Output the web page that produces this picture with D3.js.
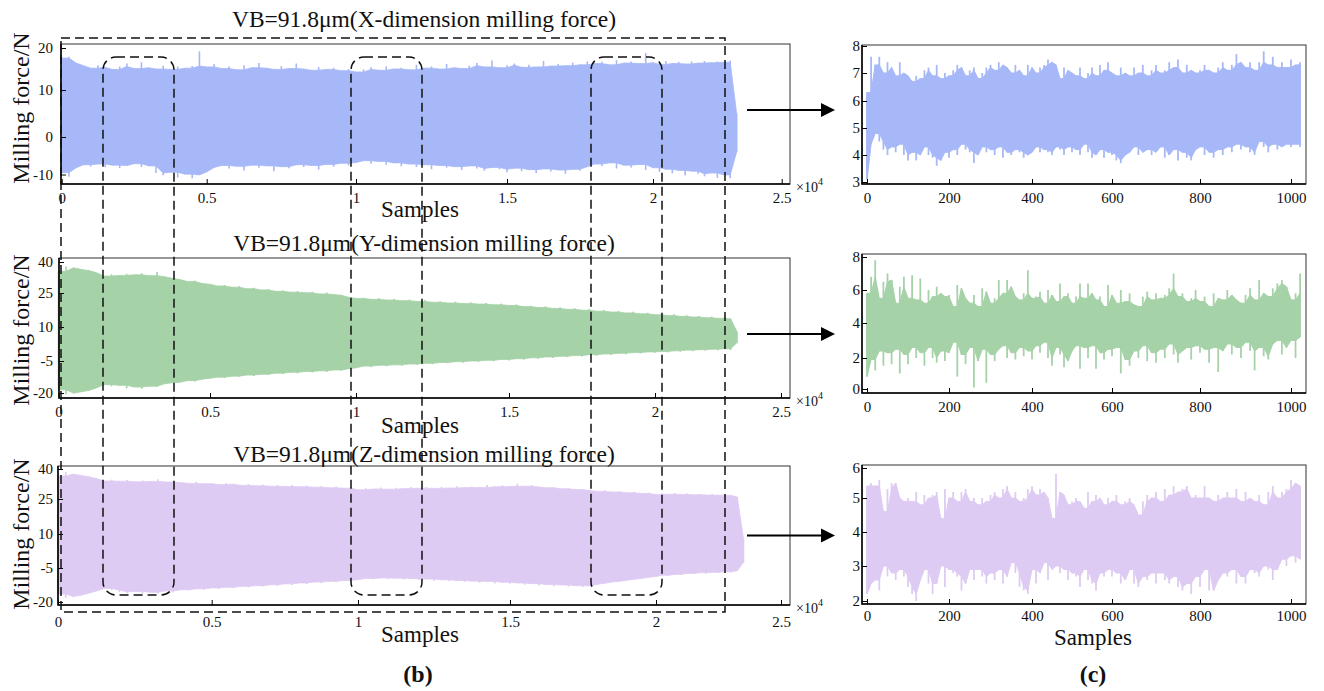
<!DOCTYPE html>
<html><head><meta charset="utf-8">
<script src="https://cdn.jsdelivr.net/npm/d3@7"></script>
<style>body{margin:0;background:#fff}svg{display:block}</style>
</head><body>
<svg id="chart" width="1324" height="691"></svg>
<script>
// ---------------- DATA ----------------
const panelTitles = ["VB=91.8μm(X-dimension milling force)", "VB=91.8μm(Y-dimension milling force)", "VB=91.8μm(Z-dimension milling force)"];
const yAxisLabel = "Milling force/N";
const xAxisLabel = "Samples";
const leftXTicks = [0, 5000, 10000, 15000, 20000, 25000];
const leftXTickLabels = ["0", "0.5", "1", "1.5", "2", "2.5"];
const rightXTicks = [0, 200, 400, 600, 800, 1000];
const leftYTicksX = [-10, 0, 10, 20];
const leftYTicksYZ = [-20, -5, 10, 25, 40];
const rightYTicksX = [3, 4, 5, 6, 7, 8];
const rightYTicksY = [0, 2, 4, 6, 8];
const rightYTicksZ = [2, 3, 4, 5, 6];
const leftSampleStep = 250;   // samples between envelope readings (full record)
const rightSampleStep = 10;   // samples between envelope readings (1024-sample window)

// full-record envelopes (upper / lower), one reading every 250 samples
const xUpper = [17.6,17.9,16.4,15.8,15.2,15.9,15.4,14.9,15.6,16.3,15.1,16.6,15.3,15.0,15.8,14.9,15.6,15.2,15.7,19.2,
15.5,16.2,15.1,15.6,14.8,15.9,15.3,16.4,15.2,14.9,15.7,15.1,16.3,15.0,14.7,15.5,14.9,15.3,14.6,15.0,
14.3,14.9,15.4,14.7,15.6,15.0,15.3,14.8,16.0,15.2,15.6,15.0,16.2,15.3,15.1,15.8,16.4,15.5,17.0,15.3,
15.9,16.3,15.4,16.0,15.5,16.9,15.7,16.2,15.8,16.5,16.0,16.8,16.3,16.7,16.0,17.1,16.4,16.8,16.3,18.8,
16.5,16.1,16.9,16.3,16.7,16.2,16.8,16.4,16.9,16.5,16.8,16.6,17.0,5.0];
const xLower = [-9.5,-10.6,-8.2,-7.4,-7.9,-7.2,-8.0,-7.5,-8.3,-7.6,-7.1,-8.0,-7.7,-9.6,-10.2,-9.4,-10.8,-9.9,-11.0,-10.1,
-9.3,-8.1,-7.6,-8.4,-7.8,-8.9,-7.5,-8.2,-7.7,-9.1,-7.9,-8.3,-7.4,-8.0,-7.6,-8.7,-7.3,-7.9,-7.0,-7.6,
-6.8,-6.3,-7.1,-6.5,-7.4,-6.9,-7.8,-7.2,-8.0,-7.4,-8.6,-7.6,-8.2,-7.9,-8.8,-7.7,-8.4,-9.0,-8.1,-8.6,
-9.4,-8.3,-9.1,-8.7,-9.6,-8.5,-9.2,-8.8,-9.8,-8.6,-9.0,-7.9,-7.2,-7.8,-6.9,-8.4,-7.5,-8.1,-7.3,-8.8,
-8.2,-9.3,-8.6,-9.7,-8.9,-10.2,-9.1,-9.8,-10.5,-9.6,-10.9,-10.1,-11.0,-4.0];
const yUpper = [35.5,37.8,37.2,36.4,35.9,34.8,33.2,34.1,33.5,34.3,33.8,34.6,33.4,35.2,32.9,32.1,31.5,30.6,30.9,29.6,
29.2,28.4,28.9,27.8,28.3,27.1,27.6,26.5,26.9,25.8,26.3,25.4,25.9,25.1,25.6,24.6,25.2,24.3,24.0,23.1,
22.6,22.9,22.2,22.8,21.9,22.4,21.6,22.1,21.3,21.8,20.9,21.4,20.6,21.2,20.4,20.9,20.1,20.6,19.8,20.3,
19.5,19.9,19.0,19.4,18.6,19.1,18.2,18.7,17.8,18.3,17.4,17.9,17.0,17.5,16.6,17.1,16.2,16.7,15.8,16.3,
15.4,15.9,15.1,15.6,14.7,15.2,14.4,14.9,14.1,14.6,13.8,14.3,13.6,8.0];
const yLower = [-18.5,-20.6,-20.1,-19.4,-18.8,-17.6,-16.1,-16.9,-16.4,-17.8,-17.2,-18.0,-16.8,-17.1,-15.7,-15.2,-15.0,-14.2,-14.6,-13.5,
-13.1,-12.6,-13.0,-12.1,-12.4,-11.6,-12.0,-11.2,-11.5,-10.7,-11.1,-10.3,-10.8,-9.9,-10.4,-9.6,-10.1,-9.2,-9.5,-8.6,
-8.2,-7.4,-7.9,-7.0,-7.5,-6.8,-7.2,-6.4,-6.9,-6.1,-6.5,-5.7,-6.1,-5.3,-5.8,-5.0,-5.4,-4.7,-5.1,-4.3,
-4.8,-4.0,-4.4,-3.6,-4.0,-3.2,-3.7,-2.9,-3.3,-2.6,-3.0,-2.2,-2.7,-1.9,-2.4,-1.6,-2.0,-1.3,-1.7,-1.0,
-1.4,-0.8,-1.2,-0.5,-0.9,-0.2,-0.7,0.0,-0.5,0.2,-0.3,0.4,-0.2,3.0];
const zUpper = [36.5,38.6,37.4,36.8,36.1,35.2,34.0,34.7,33.9,34.5,33.6,34.3,33.8,34.9,33.5,34.1,33.2,32.8,33.7,32.6,
32.9,32.2,33.0,32.4,31.8,32.5,31.6,32.2,31.4,31.9,31.2,32.0,31.1,31.7,30.9,31.5,30.6,31.3,30.4,30.9,
29.6,30.4,30.0,30.7,29.9,30.6,30.2,31.0,30.4,30.9,30.3,31.1,30.5,31.4,30.7,31.2,30.8,32.0,31.1,31.9,
31.3,32.6,31.4,31.9,31.0,30.6,30.9,30.1,30.4,29.7,29.9,29.2,28.8,29.4,28.5,28.9,28.1,28.6,27.8,28.2,
27.2,27.9,27.4,28.0,27.3,27.8,27.1,27.6,27.0,27.5,26.9,27.4,26.8,26.0,8.0];
const zLower = [-16.5,-18.2,-17.6,-17.0,-16.1,-15.2,-14.0,-14.8,-15.5,-16.1,-15.4,-16.3,-15.7,-16.2,-15.1,-15.8,-14.6,-14.9,-14.2,-14.7,
-13.8,-14.3,-13.5,-13.9,-13.1,-13.6,-12.8,-13.2,-12.4,-12.9,-12.0,-12.5,-11.6,-12.1,-11.2,-11.7,-10.9,-11.3,-10.5,-10.9,
-10.1,-9.6,-10.0,-9.4,-9.9,-9.5,-10.1,-9.7,-10.3,-9.9,-10.6,-10.2,-10.9,-10.5,-11.2,-10.8,-11.5,-11.0,-11.8,-11.3,
-12.0,-11.6,-12.4,-11.9,-12.7,-12.3,-13.0,-12.5,-13.2,-12.8,-13.4,-12.9,-12.2,-11.7,-11.2,-10.9,-10.4,-10.0,-9.6,-9.1,
-8.7,-8.2,-8.5,-7.8,-8.1,-7.4,-7.7,-7.1,-7.5,-6.9,-7.3,-6.7,-7.0,-6.2,-2.5];

// 1024-sample window peaks (hi) and troughs (lo), one pair every 10 samples
const xWinHi = [6.3,7.6,7.3,7.6,7.0,7.4,7.2,6.9,7.4,7.0,6.9,6.7,6.9,6.8,7.1,7.2,6.9,7.3,6.8,7.0,
6.9,7.1,7.3,7.2,6.9,7.1,7.2,6.8,7.0,7.2,7.3,7.1,7.4,7.3,7.2,7.0,7.3,7.1,6.9,7.3,
7.2,7.0,7.2,7.3,7.5,7.4,7.3,6.8,7.2,7.1,7.0,6.9,7.2,6.8,7.0,7.2,6.9,7.3,7.1,7.4,
7.0,6.9,7.2,7.0,6.9,7.2,7.0,7.3,6.9,7.1,7.3,7.0,7.1,7.4,7.2,7.5,7.0,7.3,7.1,7.0,
7.1,7.3,7.1,7.0,7.2,7.4,7.1,7.3,7.7,7.4,7.2,7.4,7.1,7.4,7.8,7.3,7.6,7.2,7.4,7.2,
7.5,7.3,7.4];
const xWinLo = [3.1,4.4,4.8,4.5,4.2,4.0,4.3,4.1,4.4,4.0,3.8,4.1,3.8,4.0,4.3,4.0,3.9,3.6,3.8,4.1,
3.9,4.2,4.0,4.4,4.2,4.1,3.7,4.0,4.3,4.1,4.2,4.0,4.3,3.9,4.1,4.0,4.2,4.1,3.9,4.0,
4.1,4.3,4.1,4.2,4.1,4.0,4.3,4.2,4.0,4.3,4.1,4.2,4.0,4.4,4.1,3.9,4.0,4.2,3.9,4.1,
4.0,3.8,3.7,4.0,4.1,4.3,4.0,4.1,4.2,4.0,4.1,4.3,3.9,4.0,4.2,3.8,4.1,3.9,3.8,4.2,
4.3,4.0,4.1,3.9,4.2,4.0,4.3,4.1,4.4,4.2,4.3,4.1,4.0,4.5,4.3,4.1,4.4,4.2,4.3,4.4,
4.3,4.4,4.3];
const yWinHi = [5.8,6.8,7.8,5.5,6.5,7.0,6.6,5.2,6.2,6.8,5.5,6.9,5.4,6.7,5.2,6.0,5.6,6.2,5.8,5.6,
5.7,5.0,6.3,6.1,5.5,5.2,5.7,5.0,6.1,5.9,5.2,5.5,6.6,5.8,6.6,6.2,5.6,5.4,5.8,7.2,
5.5,5.6,5.9,5.2,6.0,5.7,5.3,6.4,5.6,5.8,5.2,5.6,6.4,5.5,6.4,5.8,5.4,5.6,5.0,6.3,
5.7,5.2,6.0,5.3,5.8,5.1,5.0,5.6,5.9,5.4,5.8,5.5,5.7,6.1,7.0,5.6,5.8,5.3,5.5,6.0,
5.3,5.6,5.0,5.8,5.5,5.4,6.0,5.7,5.4,5.2,5.7,6.1,5.4,6.6,5.8,5.6,6.1,6.4,6.6,6.2,
5.4,5.8,7.0];
const yWinLo = [0.8,1.9,1.2,2.4,1.5,2.3,1.6,2.5,1.0,2.2,1.6,2.6,2.0,2.3,1.5,2.6,2.0,1.7,2.4,1.8,
2.3,2.9,0.8,2.2,1.6,2.6,0.1,1.8,2.5,0.4,2.2,1.8,2.5,2.7,2.0,2.3,1.9,2.6,2.1,2.4,
1.9,2.7,2.3,2.9,2.0,1.5,2.6,2.2,1.4,1.8,2.4,2.7,1.3,2.6,2.0,2.7,1.3,2.3,1.9,2.5,
2.1,2.6,1.0,1.9,1.5,2.4,2.0,2.7,1.8,2.3,1.7,2.5,2.0,2.8,2.2,1.7,2.4,2.6,1.9,2.7,
2.3,2.5,1.7,2.6,1.1,2.4,2.8,2.2,2.6,2.0,2.9,2.4,1.2,2.6,2.1,1.9,2.8,3.0,2.2,2.6,
3.0,2.0,3.2];
const zWinHi = [5.4,5.5,5.4,5.6,4.6,5.3,5.5,5.5,5.0,4.9,5.0,4.9,5.2,4.8,5.1,5.0,5.1,5.2,4.4,5.3,
5.0,5.2,4.9,5.2,5.3,4.9,5.0,4.8,5.0,4.9,5.1,5.2,5.0,5.3,5.4,5.0,5.2,4.9,5.0,5.3,
5.4,5.1,5.3,5.2,5.0,4.4,5.8,5.2,5.1,4.8,4.9,5.0,4.9,4.7,5.2,4.9,5.1,5.0,4.8,5.0,
4.9,5.1,4.8,4.9,5.0,4.8,4.5,4.9,5.1,5.0,5.2,4.9,5.3,5.1,5.4,5.2,5.3,5.4,5.0,5.1,
5.0,5.4,5.0,4.9,5.1,5.0,5.2,5.0,5.3,4.9,5.2,5.0,4.9,5.1,4.8,5.2,5.4,5.0,5.2,5.3,
5.6,5.5,5.4];
const zWinLo = [2.2,2.5,2.6,2.3,3.0,2.7,2.8,2.6,2.9,2.7,2.4,2.2,2.0,2.6,2.9,2.5,2.2,2.5,3.0,2.4,
2.9,2.8,2.7,2.3,2.5,2.9,2.6,2.9,2.7,2.5,2.8,2.6,2.9,2.5,2.7,3.1,2.8,2.4,2.3,2.2,
2.9,2.5,2.8,3.1,2.6,2.9,3.0,2.8,2.9,2.6,2.8,2.7,2.4,2.9,2.6,2.5,2.3,2.8,2.7,2.9,
2.7,2.8,2.5,2.6,2.9,2.5,2.4,2.7,2.6,2.8,2.5,2.8,2.6,2.5,2.7,2.4,2.3,2.5,2.2,2.7,
2.4,2.9,2.3,2.3,2.6,2.8,2.7,2.9,2.5,2.7,2.5,2.9,2.8,2.7,3.0,2.9,2.6,2.9,3.2,3.0,
3.3,3.1,3.2];

const colors = ["#a7b8f8", "#a6d2a8", "#decbf3"];

// ---------------- LAYOUT ----------------
const FONT = "'Liberation Serif','Times New Roman',Times,serif";
const svg = d3.select("#chart");

const leftPanels = [
  {box:{x0:61,x1:790,y0:44,y1:184}, xr:[61.7,206.7,356,507,653,781.7], yTicks:leftYTicksX, yr:[174.5,137,90,48],
   up:xUpper, lo:xLower, color:colors[0], title:panelTitles[0], titleY:27, labY:217, ylabY:108, tickPad:8},
  {box:{x0:59,x1:790,y0:258,y1:398}, xr:[58.5,210,356,509,655,781], yTicks:leftYTicksYZ, yr:[393,361,327,293,262],
   up:yUpper, lo:yLower, color:colors[1], title:panelTitles[1], titleY:251, labY:433, ylabY:330, tickPad:8},
  {box:{x0:58,x1:790,y0:466,y1:605}, xr:[58,211.7,358,510,656,781], yTicks:leftYTicksYZ, yr:[602,568,534,499,469],
   up:zUpper, lo:zLower, color:colors[2], title:panelTitles[2], titleY:462, labY:642, ylabY:534, tickPad:11}
];
const rightPanels = [
  {box:{x0:862,x1:1306,y0:45,y1:184}, yTicks:rightYTicksX, yr:[182,155,128,101,73,46], hi:xWinHi, lo:xWinLo, color:colors[0], tickPad:8},
  {box:{x0:862,x1:1306,y0:254,y1:393}, yTicks:rightYTicksY, yr:[389,358,323,290,257], hi:yWinHi, lo:yWinLo, color:colors[1], tickPad:8},
  {box:{x0:862,x1:1306,y0:465,y1:604}, yTicks:rightYTicksZ, yr:[601,566,532,498,468], hi:zWinHi, lo:zWinLo, color:colors[2], tickPad:6}
];
const rightXRange = [867,949,1032,1112,1200,1291];

function styleAxis(g) {
  g.select(".domain").remove();
  g.selectAll(".tick line").attr("stroke", "#000").attr("stroke-width", 1);
  g.selectAll(".tick text").attr("font-family", FONT).attr("font-size", 15).attr("fill", "#111");
}

function drawBox(b) {
  svg.append("rect").attr("x", b.x0).attr("y", b.y0).attr("width", b.x1 - b.x0).attr("height", b.y1 - b.y0)
    .attr("fill", "none").attr("stroke", "#333").attr("stroke-width", 1);
  svg.append("path").attr("d", `M${b.x0},${b.y0}V${b.y1}H${b.x1}`).attr("fill", "none")
    .attr("stroke", "#000").attr("stroke-width", 1.5);
}

// band = core area crossed by consecutive swings + each swing drawn as a thin vertical stroke
function drawSignal(hi, lo, step, x, y, color, clipId, coreStroke, swingWidth) {
  const rows = hi.map((h, i) => {
    const a = Math.max(0, i - 1);
    return {s: i * step, h: h, l: lo[i],
      ch: Math.min(hi[a], h), cl: Math.max(lo[a], lo[i])};
  });
  svg.append("path").datum(rows).attr("clip-path", `url(#${clipId})`)
    .attr("fill", color).attr("stroke", color).attr("stroke-width", coreStroke)
    .attr("d", d3.area().x(d => x(d.s)).y0(d => y(Math.min(d.cl, d.ch))).y1(d => y(d.ch)));
  svg.append("g").attr("clip-path", `url(#${clipId})`).selectAll("line").data(rows).join("line")
    .attr("x1", d => x(d.s)).attr("x2", d => x(d.s))
    .attr("y1", d => y(d.l)).attr("y2", d => y(d.h))
    .attr("stroke", color).attr("stroke-width", swingWidth);
}

leftPanels.forEach((p, k) => {
  const b = p.box;
  const x = d3.scaleLinear().domain(leftXTicks).range(p.xr);
  const y = d3.scaleLinear().domain(p.yTicks).range(p.yr);
  const cid = "clipL" + k;
  svg.append("clipPath").attr("id", cid).append("rect")
    .attr("x", b.x0 - 4).attr("y", b.y0).attr("width", b.x1 - b.x0 + 4).attr("height", b.y1 - b.y0);
  drawSignal(p.up, p.lo, leftSampleStep, x, y, p.color, cid, 0.8, 1.6);
  drawBox(b);
  svg.append("g").attr("transform", `translate(0,${b.y1})`)
    .call(d3.axisBottom(x).tickValues(leftXTicks).tickFormat((d, i) => leftXTickLabels[i])
      .tickSizeInner(-5).tickSizeOuter(0).tickPadding(p.tickPad)).call(styleAxis);
  svg.append("g").attr("transform", `translate(${b.x0},0)`)
    .call(d3.axisLeft(y).tickValues(p.yTicks).tickFormat(d => String(d))
      .tickSizeInner(-5).tickSizeOuter(0).tickPadding(b.x0 - 53)).call(styleAxis);
  svg.append("text").attr("x", 424).attr("y", p.titleY).attr("text-anchor", "middle")
    .attr("font-family", FONT).attr("font-size", 23.5).attr("fill", "#111").text(p.title);
  svg.append("text").attr("x", 420).attr("y", p.labY).attr("text-anchor", "middle")
    .attr("font-family", FONT).attr("font-size", 23).attr("fill", "#111").text(xAxisLabel);
  svg.append("text").attr("transform", `translate(29,${p.ylabY}) rotate(-90)`).attr("text-anchor", "middle")
    .attr("font-family", FONT).attr("font-size", 24).attr("fill", "#111").text(yAxisLabel);
  const sc = svg.append("text").attr("x", 796).attr("y", b.y1 + 8)
    .attr("font-family", FONT).attr("font-size", 14).attr("fill", "#111");
  sc.append("tspan").text("×10");
  sc.append("tspan").attr("font-size", 10).attr("dy", -7).text("4");
  const ay = (b.y0 + b.y1) / 2 + (k === 0 ? -4 : (k === 1 ? 6 : 0));
  svg.append("line").attr("x1", 747).attr("x2", 824).attr("y1", ay).attr("y2", ay)
    .attr("stroke", "#000").attr("stroke-width", 2);
  svg.append("path").attr("d", `M821,${ay - 7}L835,${ay}L821,${ay + 7}Z`).attr("fill", "#000");
});

rightPanels.forEach((p, k) => {
  const b = p.box;
  const x = d3.scaleLinear().domain(rightXTicks).range(rightXRange);
  const y = d3.scaleLinear().domain(p.yTicks).range(p.yr);
  const cid = "clipR" + k;
  svg.append("clipPath").attr("id", cid).append("rect")
    .attr("x", b.x0).attr("y", b.y0).attr("width", b.x1 - b.x0).attr("height", b.y1 - b.y0);
  drawSignal(p.hi, p.lo, rightSampleStep, x, y, p.color, cid, 1, 1.8);
  drawBox(b);
  svg.append("g").attr("transform", `translate(0,${b.y1})`)
    .call(d3.axisBottom(x).tickValues(rightXTicks).tickFormat(d => String(d))
      .tickSizeInner(-5).tickSizeOuter(0).tickPadding(p.tickPad)).call(styleAxis);
  svg.append("g").attr("transform", `translate(${b.x0},0)`)
    .call(d3.axisLeft(y).tickValues(p.yTicks).tickFormat(d => String(d))
      .tickSizeInner(-5).tickSizeOuter(0).tickPadding(2)).call(styleAxis);
});

svg.append("text").attr("x", 1093).attr("y", 645).attr("text-anchor", "middle")
  .attr("font-family", FONT).attr("font-size", 23).attr("fill", "#111").text(xAxisLabel);
svg.append("text").attr("x", 418).attr("y", 682).attr("text-anchor", "middle")
  .attr("font-family", FONT).attr("font-size", 24).attr("font-weight", "bold").attr("fill", "#111").text("(b)");
svg.append("text").attr("x", 1093).attr("y", 682).attr("text-anchor", "middle")
  .attr("font-family", FONT).attr("font-size", 24).attr("font-weight", "bold").attr("fill", "#111").text("(c)");

// dashed selection overlays
const dash = "9,5";
svg.append("rect").attr("x", 61).attr("y", 38).attr("width", 725 - 61).attr("height", 612 - 38)
  .attr("fill", "none").attr("stroke", "#111").attr("stroke-width", 1.5).attr("stroke-dasharray", dash);
const windowBoxes = [[103, 174], [351, 422], [591, 662]];
windowBoxes.forEach(w => {
  svg.append("rect").attr("x", w[0]).attr("y", 57).attr("width", w[1] - w[0]).attr("height", 595 - 57)
    .attr("rx", 13).attr("ry", 13)
    .attr("fill", "none").attr("stroke", "#111").attr("stroke-width", 1.5).attr("stroke-dasharray", dash);
});
</script>
</body></html>
